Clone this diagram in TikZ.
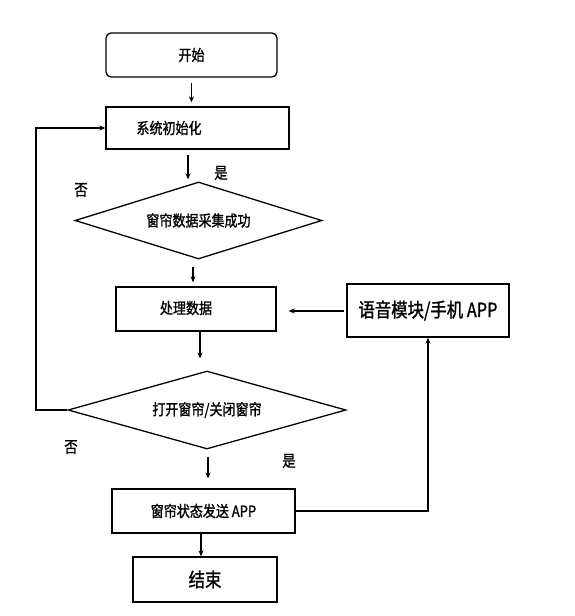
\documentclass[tikz,border=0pt]{standalone}
\usepackage{fontspec}
\newfontfamily\cjk[FakeStretch=0.84,FakeBold=1.2]{Noto Sans CJK SC}
\usetikzlibrary{shapes.geometric,arrows.meta,calc}
\begin{document}
\begin{tikzpicture}[x=1pt,y=-1pt,
  every node/.style={font=\cjk\fontsize{15.5}{18}\selectfont},
  big/.style={font=\cjk\fontsize{19.5}{22}\selectfont},
  mark label/.style={font=\cjk\fontsize{16}{18}\selectfont},
  boxshape/.style={draw,line width=1.3pt,inner sep=0pt},
  decide/.style={draw,line width=1.3pt,diamond,aspect=3.2,inner sep=0pt},
  arr/.style={line width=1.2pt,-{Stealth[length=6pt,width=5pt]}},
  conn/.style={line width=1.2pt}]
\useasboundingbox (0,0) rectangle (574,616);
\node[boxshape,rounded corners=5pt,minimum width=171pt,minimum height=44pt] (start) at (191.5,55) {开始};
\node[boxshape,minimum width=183pt,minimum height=42pt] (init) at (197.5,128) {};
\node (initt) at (169,128) {系统初始化};
\node[decide,minimum width=247pt,minimum height=77pt] (d1) at (198.5,220.5) {窗帘数据采集成功};
\node[boxshape,minimum width=160pt,minimum height=44pt] (proc) at (196,309) {};
\node (proct) at (186,308) {处理数据};
\node[boxshape,big,minimum width=162pt,minimum height=53pt] (voice) at (428,310.5) {语音模块/手机 APP};
\node[decide,minimum width=278pt,minimum height=78pt] (d2) at (207,410) {打开窗帘/关闭窗帘};
\node[boxshape,minimum width=183pt,minimum height=44pt] (send) at (203.5,511) {窗帘状态发送 APP};
\node[boxshape,big,minimum width=144pt,minimum height=45pt] (end) at (205,579.5) {结束};
\node[mark label] (yes1) at (221,173) {是};
\node[mark label] (no1) at (81,190) {否};
\node[mark label] (no2) at (71,447) {否};
\node[mark label] (yes2) at (289,461) {是};
\coordinate (loopL) at (36,128);
\draw[arr] ($(start.south)+(0,5)$) -- ($(start.south |- init.north)+(0,-4)$);
\draw[arr] ($(init.south)+(-9.5,5)$) -- ($(init.south |- d1.north)+(-9.5,-2)$);
\draw[arr] ($(d1.south)+(-5.5,7)$) -- ($(d1.south |- proc.north)+(-5.5,-4)$);
\draw[arr] ($(voice.west)+(-2,0.5)$) -- ($(proc.east |- voice.west)+(12,0.5)$);
\draw[arr] ($(proc.south)+(4,0)$) -- ($(proc.south |- d2.north)+(4,-12)$);
\draw[arr] (d2.west) -| (loopL) -- (init.west);
\draw[arr] ($(d2.south)+(1,7)$) -- ($(d2.south |- send.north)+(1,-10)$);
\draw[arr] (send.east) -| (voice.south);
\draw[arr] ($(send.south)+(-2.5,0)$) -- ($(send.south |- end.north)+(-2.5,0)$);
\end{tikzpicture}
\end{document}
